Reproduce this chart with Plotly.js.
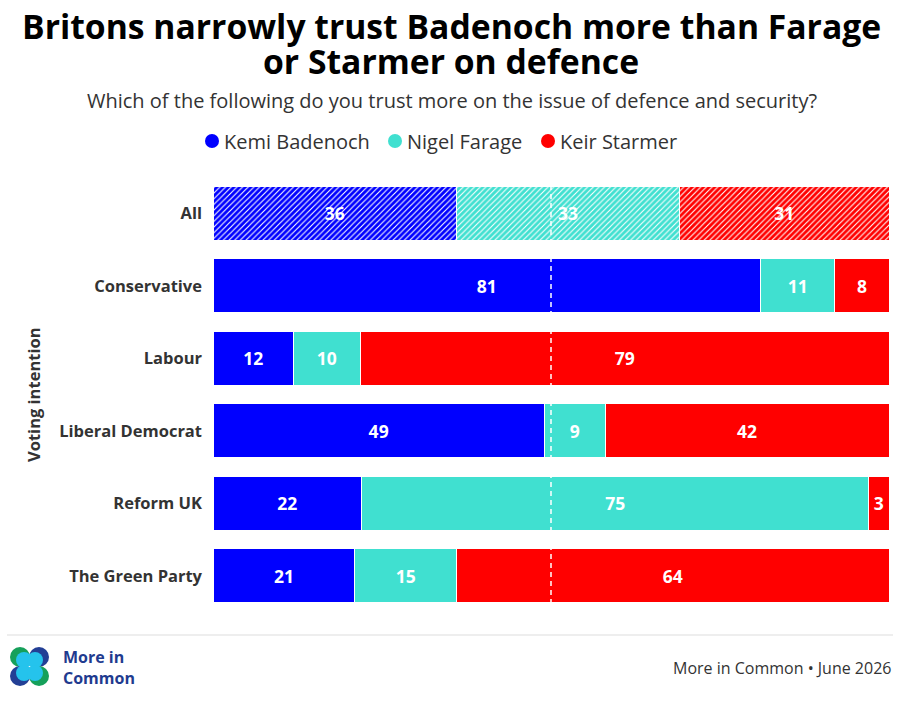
<!DOCTYPE html>
<html>
<head>
<meta charset="utf-8">
<script src="https://cdn.plot.ly/plotly-3.0.1.min.js"></script>
<style>html,body{margin:0;padding:0;background:#fff;}#chart{width:904px;height:702px;}</style>
</head>
<body>
<div id="chart"></div>
<script>
const categories = ["All", "Conservative", "Labour", "Liberal Democrat", "Reform UK", "The Green Party"];
const badenoch = [36, 81, 12, 49, 22, 21];
const farage = [33, 11, 10, 9, 75, 15];
const starmer = [31, 8, 79, 42, 3, 64];
const seriesNames = ["Kemi Badenoch", "Nigel Farage", "Keir Starmer"];
const seriesColors = ["#0000ff", "#40e0d0", "#ff0000"];

const W = 904, H = 702, ML = 213, MR = 15, MT = 177, MB = 90;
const PW = W - ML - MR, PH = H - MT - MB;
const px = v => (v - ML) / PW;
const py = v => (H - MB - v) / PH;
const FONT = "'Open Sans', 'Noto Sans', sans-serif";

const data = [];
[badenoch, farage, starmer].forEach((vals, i) => {
  const common = {
    type: "bar", orientation: "h", name: seriesNames[i],
    textposition: "inside", insidetextanchor: "middle", textangle: 0,
    textfont: {family: FONT, size: 17.5, color: "#ffffff", weight: "bold"},
    hoverinfo: "skip", showlegend: false
  };
  // "All" row, hatched
  data.push(Object.assign({}, common, {
    y: categories.slice(0, 1), x: vals.slice(0, 1), text: vals.slice(0, 1).map(String),
    marker: {color: seriesColors[i], line: {color: "#ffffff", width: 1},
             pattern: {shape: "/", fgcolor: "#ffffff", bgcolor: seriesColors[i], size: 4, solidity: 0.28, fillmode: "replace"}}
  }));
  // voting intention rows
  data.push(Object.assign({}, common, {
    y: categories.slice(1), x: vals.slice(1), text: vals.slice(1).map(String),
    marker: {color: seriesColors[i], line: {color: "#ffffff", width: 1}}
  }));
});

const layout = {
  width: W, height: H,
  margin: {l: ML, r: MR, t: MT, b: MB, pad: 0},
  paper_bgcolor: "#ffffff", plot_bgcolor: "#ffffff",
  font: {family: FONT, color: "#333333"},
  barmode: "stack",
  barnorm: "percent",
  bargap: 0.255,
  showlegend: false,
  xaxis: {range: [0, 100], visible: false, fixedrange: true},
  yaxis: {
    type: "category", categoryorder: "array", categoryarray: categories, autorange: "reversed",
    showgrid: false, zeroline: false, showline: false,
    ticks: "", ticklabelstandoff: 10,
    tickfont: {family: FONT, size: 16.5, color: "#333333", weight: "bold"}
  },
  shapes: [
    {type: "line", xref: "x", yref: "paper", x0: 50, x1: 50, y0: py(604), y1: py(187), layer: "above",
     line: {color: "#ffffff", width: 1.5, dash: "5px,4px"}},
    {type: "line", xref: "paper", yref: "paper", x0: px(7), x1: px(893), y0: py(635), y1: py(635),
     line: {color: "#dddddd", width: 1}}
  ],
  annotations: [
    {text: "<b>Britons narrowly trust Badenoch more than Farage</b>", xref: "paper", yref: "paper",
     x: px(451), y: py(26), xanchor: "center", yanchor: "middle", showarrow: false,
     font: {family: FONT, size: 33.7, color: "#000000", weight: 800}},
    {text: "<b>or Starmer on defence</b>", xref: "paper", yref: "paper",
     x: px(451), y: py(61), xanchor: "center", yanchor: "middle", showarrow: false,
     font: {family: FONT, size: 33.7, color: "#000000", weight: 800}},
    {text: "Which of the following do you trust more on the issue of defence and security?", xref: "paper", yref: "paper",
     x: px(452), y: py(101), xanchor: "center", yanchor: "middle", showarrow: false,
     font: {family: FONT, size: 20, color: "#333333"}},
    {text: "<b>Voting intention</b>", xref: "paper", yref: "paper", textangle: -90,
     x: px(33), y: py(395), xanchor: "center", yanchor: "middle", showarrow: false,
     font: {family: FONT, size: 16.5, color: "#333333"}},
    {text: "<b>More in<br>Common</b>", xref: "paper", yref: "paper", align: "left",
     x: px(61), y: py(667), xanchor: "left", yanchor: "middle", showarrow: false,
     font: {family: FONT, size: 16, color: "#1f3b8f"}},
    {text: "More in Common • June 2026", xref: "paper", yref: "paper",
     x: px(893), y: py(668), xanchor: "right", yanchor: "middle", showarrow: false,
     font: {family: FONT, size: 16, color: "#333333"}}
  ]
};

// legend (circle + label)
const legendCx = [212, 395, 548];
seriesNames.forEach((n, i) => {
  const r = 7, cx = legendCx[i], cy = 141;
  layout.shapes.push({type: "circle", xref: "paper", yref: "paper",
    x0: px(cx - r), x1: px(cx + r), y0: py(cy + r), y1: py(cy - r),
    fillcolor: seriesColors[i], line: {width: 0}});
  layout.annotations.push({text: n, xref: "paper", yref: "paper", x: px(cx + 10), y: py(cy),
    xanchor: "left", yanchor: "middle", showarrow: false,
    font: {family: FONT, size: 20, color: "#333333"}});
});

// logo circles
function circ(cx, cy, r, color) {
  return {type: "circle", xref: "paper", yref: "paper", x0: px(cx - r), x1: px(cx + r), y0: py(cy + r), y1: py(cy - r),
          fillcolor: color, line: {width: 0}, layer: "above"};
}
const navy = "#233f95", green = "#16a05a", cyan = "#25c3ec";
layout.shapes.push(circ(20, 657, 10, green), circ(39, 657, 10, navy), circ(20, 676, 10, navy), circ(39, 676, 10, green));
layout.shapes.push(circ(24, 660, 8, cyan), circ(35, 660, 8, cyan), circ(24, 673, 8, cyan), circ(35, 673, 8, cyan));

Plotly.newPlot("chart", data, layout, {displayModeBar: false, staticPlot: true});
</script>
</body>
</html>
